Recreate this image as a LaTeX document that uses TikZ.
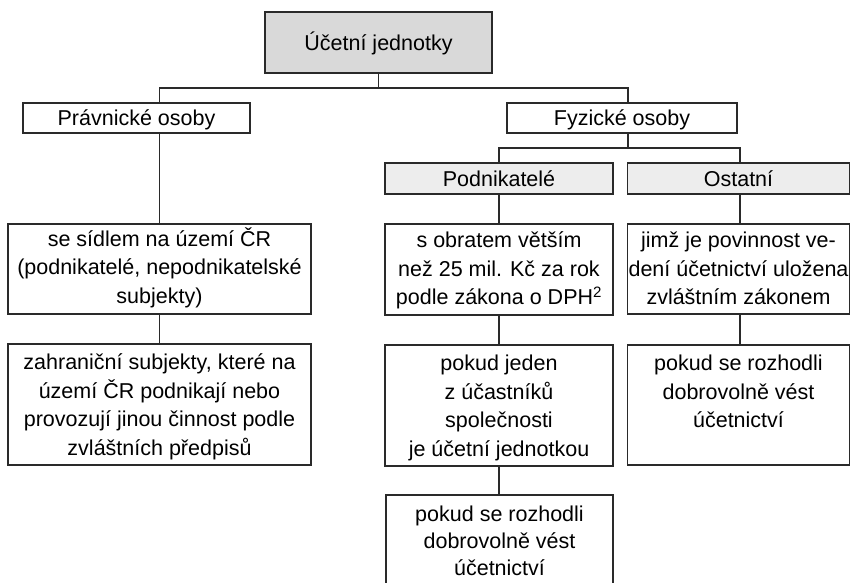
\documentclass[tikz,border=0pt]{standalone}
\usepackage{fontspec}
\setmainfont{Liberation Sans}
\usetikzlibrary{backgrounds}
\definecolor{topfill}{HTML}{D9D9D9}
\definecolor{subfill}{HTML}{EDEDED}
\definecolor{linec}{HTML}{2A2A2A}
\begin{document}
\begin{tikzpicture}[x=1pt,y=-1pt,
  box/.style={draw=linec, line width=1.3pt, fill=white, inner sep=0pt,
    font=\fontsize{21.5}{28.4}\selectfont, text height=15.4pt, text depth=0pt},
  txt/.style={anchor=north, align=center, inner sep=0pt,
    font=\fontsize{21.5}{28.4}\selectfont},
  conn/.style={draw=linec, line width=1.3pt}]
\useasboundingbox (0,0) rectangle (851,582);
% boxes
\node[box, fill=topfill, minimum width=227, minimum height=61] (top) at (378.5,42.5) {Účetní jednotky};
\node[box, minimum width=227, minimum height=30] (prav) at (136.5,118) {Právnické osoby};
\node[box, minimum width=230, minimum height=30] (fyz) at (622,118) {Fyzické osoby};
\node[box, fill=subfill, minimum width=228, minimum height=31] (pod) at (499,178.5) {Podnikatelé};
\node[box, fill=subfill, minimum width=222, minimum height=31] (ost) at (738.5,178.5) {Ostatní};
\node[box, minimum width=303, minimum height=90] (sidlem) at (159.5,269) {};
\node[box, minimum width=303, minimum height=121] (zahr) at (159.5,404.5) {};
\node[box, minimum width=228, minimum height=91] (obrat) at (499,269.5) {};
\node[box, minimum width=222, minimum height=90] (jimz) at (738.5,269) {};
\node[box, minimum width=228, minimum height=121] (jeden) at (499,405.5) {};
\node[box, minimum width=222, minimum height=120] (ost2) at (738.5,405) {};
\node[box, minimum width=227, minimum height=105] (dobr) at (499.5,547.5) {};
% texts
\node[txt] (sidlemT) at ([yshift=-3pt]sidlem.north) {\strut se sídlem na území ČR\\(podnikatelé, nepodnikatelské\\subjekty)};
\node[txt] (zahrT) at ([yshift=-6.5pt]zahr.north) {\strut zahraniční subjekty, které na\\území ČR podnikají nebo\\provozují jinou činnost podle\\zvláštních předpisů};
\node[txt] (obratT) at ([yshift=-4.5pt]obrat.north) {\strut s obratem větším\\než 25 mil. Kč za rok\\podle zákona o DPH\textsuperscript{2}};
\node[txt] (jimzT) at ([yshift=-4.5pt]jimz.north) {\strut jimž je povinnost ve-\\dení účetnictví uložena\\zvláštním zákonem};
\node[txt] (jedenT) at ([yshift=-6.5pt]jeden.north) {\strut pokud jeden\\z účastníků\\společnosti\\je účetní jednotkou};
\node[txt] (ost2T) at ([yshift=-6.5pt]ost2.north) {\strut pokud se rozhodli\\dobrovolně vést\\účetnictví};
\node[txt, font=\fontsize{21.5}{27}\selectfont] (dobrT) at ([yshift=-8pt]dobr.north) {\strut pokud se rozhodli\\dobrovolně vést\\účetnictví};
% junction points
\coordinate (hL) at (159.5,88);
\coordinate (hR) at (628,88);
\coordinate (fL) at (499,148);
\coordinate (fR) at (740,148);
\begin{scope}[on background layer]
\draw[conn] (top.south) -- (top.south |- hL);
\draw[conn] (sidlem.north) -- (hL) -- (hR) -- (fyz.north -| hR);
\draw[conn] (fyz.south -| hR) -- (hR |- fL);
\draw[conn] (pod.north) -- (pod.north |- fL) -- (fR) -- (ost.north -| fR);
\draw[conn] (ost.south -| fR) -- (jimz.north -| fR);
\draw[conn] (jimz.south -| fR) -- (ost2.north -| fR);
\draw[conn] (pod.south) -- (obrat.north);
\draw[conn] (obrat.south) -- (jeden.north);
\draw[conn] (jeden.south) -- (jeden.south |- dobr.north);
\draw[conn] (sidlem.south) -- (zahr.north);
\end{scope}
\end{tikzpicture}
\end{document}
